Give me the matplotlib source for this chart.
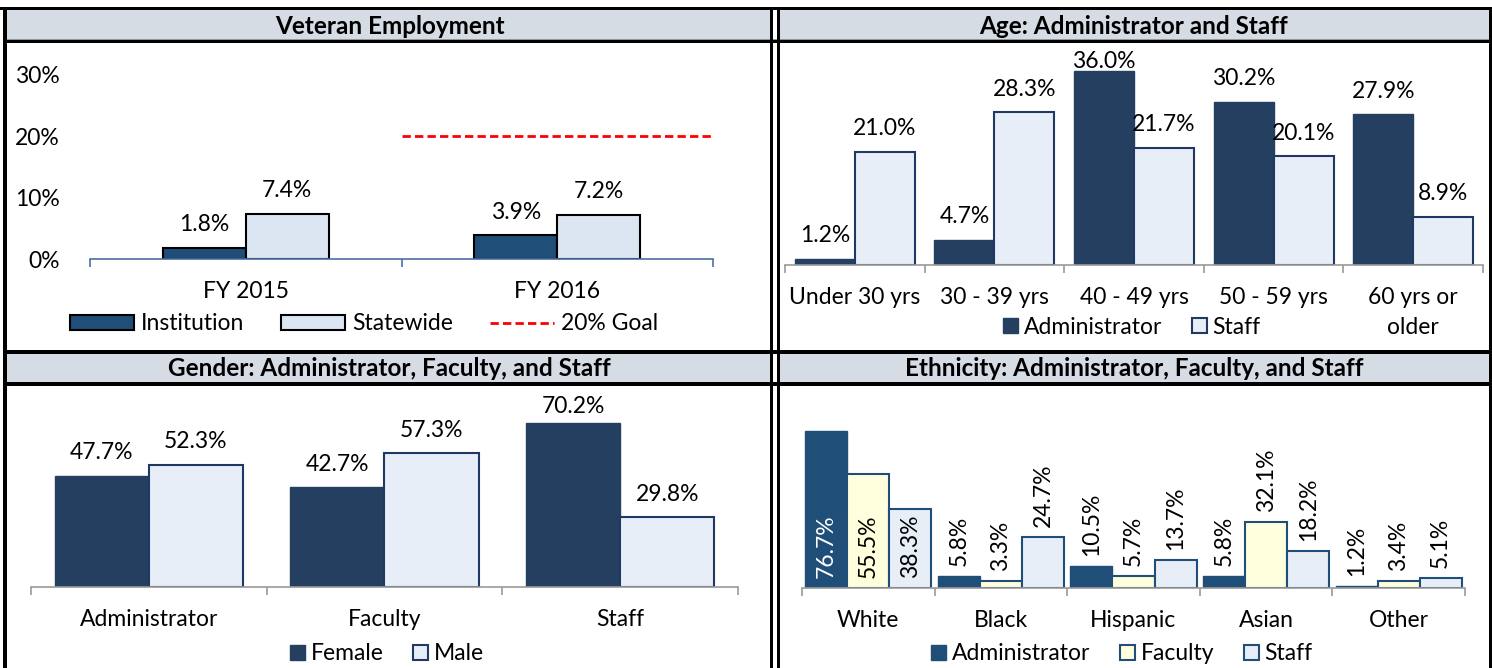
import matplotlib
matplotlib.use('Agg')
import matplotlib.pyplot as plt
from matplotlib.patches import Rectangle
from matplotlib.lines import Line2D
import numpy as np

# ---- data ----
vet_years = ['FY 2015', 'FY 2016']
vet_institution = [0.018, 0.039]
vet_statewide = [0.074, 0.072]
vet_goal = 0.20

age_groups = ['Under 30 yrs', '30 - 39 yrs', '40 - 49 yrs', '50 - 59 yrs', '60 yrs or\nolder']
age_admin = [0.012, 0.047, 0.360, 0.302, 0.279]
age_staff = [0.210, 0.283, 0.217, 0.201, 0.089]

gender_roles = ['Administrator', 'Faculty', 'Staff']
gender_female = [0.477, 0.427, 0.702]
gender_male = [0.523, 0.573, 0.298]

eth_groups = ['White', 'Black', 'Hispanic', 'Asian', 'Other']
eth_admin = [0.767, 0.058, 0.105, 0.058, 0.012]
eth_faculty = [0.555, 0.033, 0.057, 0.321, 0.034]
eth_staff = [0.383, 0.247, 0.137, 0.182, 0.051]

# ---- style ----
plt.rcParams['font.family'] = ['Lato', 'DejaVu Sans']
FS = 16.5
TFS = 17.5
W, H = 1492, 668
NAVY = '#243F60'
BLUE = '#1F4E79'
LIGHT = '#E8EEF7'
STATE = '#DCE6F2'
YELLOW = '#FFFFDD'
HEAD = '#D6DCE4'

fig = plt.figure(figsize=(W / 100, H / 100), dpi=100)


def box(x, y, w, h, color, z=1):
    fig.add_artist(Rectangle((x / W, 1 - (y + h) / H), w / W, h / H,
                             transform=fig.transFigure, facecolor=color,
                             edgecolor='none', zorder=z))


def px_axes(left, top, right, bottom):
    ax = fig.add_axes([left / W, 1 - bottom / H, (right - left) / W, (bottom - top) / H])
    ax.patch.set_alpha(0)
    return ax


def cat_axis(ax, labels, spine_color, pad):
    n = len(labels)
    ax.set_xlim(-0.5, n - 0.5)
    ax.set_xticks(np.arange(n + 1) - 0.5)
    ax.set_xticklabels([])
    ax.set_xticks(np.arange(n), minor=True)
    ax.set_xticklabels(labels, minor=True, fontsize=FS)
    ax.tick_params(axis='x', which='major', length=6, color=spine_color, width=1.2)
    ax.tick_params(axis='x', which='minor', length=0, pad=pad)
    for s in ['top', 'right', 'left']:
        ax.spines[s].set_visible(False)
    ax.spines['bottom'].set_color(spine_color)
    ax.spines['bottom'].set_linewidth(1.2)
    ax.set_yticks([])


def ppu(ax):
    # pixels per data unit on the y axis
    y0, y1 = ax.get_ylim()
    return ax.get_window_extent().height / (y1 - y0)


def top_labels(ax, xs, vals, off_px, cap_px, **kw):
    p = ppu(ax)
    ymax = ax.get_ylim()[1]
    for x, v in zip(xs, vals):
        y = min(v + off_px / p, ymax - cap_px / p)
        ax.text(x, y, f'{v * 100:.1f}%', ha='center', va='center', fontsize=FS, **kw)


# ---- frame and headers ----
for y0 in (10, 354):
    box(7, y0, 763, 29, HEAD)
    box(780, y0, 709, 29, HEAD)
box(7, 39, 1482, 1.5, '#8C96A0')
box(0, 7, W, 3, 'black', 3)
box(7, 40, 1482, 3, 'black', 3)
box(7, 350, 1482, 4, 'black', 3)
box(7, 382, 1482, 4, 'black', 3)
box(3, 7, 4, H, 'black', 3)
box(770, 7, 3, H, 'black', 3)
box(777, 7, 3, H, 'black', 3)
box(1489, 7, 3, H, 'black', 3)

titles = [('Veteran Employment', 390, 27), ('Age: Administrator and Staff', 1134, 27),
          ('Gender: Administrator, Faculty, and Staff', 389, 369),
          ('Ethnicity: Administrator, Faculty, and Staff', 1134, 369)]
for t, x, y in titles:
    fig.text(x / W, 1 - y / H, t, ha='center', va='center', fontsize=TFS, weight='bold')

# ---- Veteran Employment ----
ax1 = px_axes(90, 75, 713, 259)
cat_axis(ax1, vet_years, '#4A6FA5', 16)
ax1.set_ylim(0, 0.30)
ax1.set_yticks([0, 0.1, 0.2, 0.3])
ax1.set_yticklabels(['0%', '10%', '20%', '30%'], fontsize=FS)
ax1.tick_params(axis='y', length=0, pad=22)
x = np.arange(len(vet_years))
bw = 0.266
ax1.bar(x - bw / 2, vet_institution, bw, color=BLUE, edgecolor='black', linewidth=1.5)
ax1.bar(x + bw / 2, vet_statewide, bw, color=STATE, edgecolor='black', linewidth=1.5)
ax1.plot([0.5, 1.5], [vet_goal, vet_goal], color='red', lw=2, ls=(0, (3, 1.5)))
top_labels(ax1, x - bw / 2, vet_institution, 23, 10)
top_labels(ax1, x + bw / 2, vet_statewide, 23, 10)
h1 = [Rectangle((0, 0), 1, 1, fc=BLUE, ec='black', lw=1.5),
      Rectangle((0, 0), 1, 1, fc=STATE, ec='black', lw=1.5),
      Line2D([], [], color='red', lw=2, ls=(0, (3, 1.5)))]
ax1.legend(h1, ['Institution', 'Statewide', '20% Goal'], loc='center',
           bbox_to_anchor=(364 / W, 1 - 324 / H), bbox_transform=fig.transFigure,
           ncol=3, frameon=False, handlelength=2.8, handleheight=0.65,
           handletextpad=0.3, columnspacing=1.6, fontsize=FS, borderpad=0, borderaxespad=0)

# ---- Age ----
ax2 = px_axes(785, 49, 1483, 265)
cat_axis(ax2, age_groups, '#9A9A9A', 16)
for t in ax2.get_xticklabels(minor=True):
    t.set_linespacing(1.5)
ax2.set_ylim(0, 0.40)
x = np.arange(len(age_groups))
bw = 0.43
ax2.bar(x - bw / 2, age_admin, bw, color=NAVY, edgecolor=NAVY, linewidth=1)
ax2.bar(x + bw / 2, age_staff, bw, color=LIGHT, edgecolor='#1F3864', linewidth=1.5)
top_labels(ax2, x - bw / 2, age_admin, 23, 13)
top_labels(ax2, x + bw / 2, age_staff, 23, 13)
h2 = [Rectangle((0, 0), 1, 1, fc=NAVY, ec=NAVY),
      Rectangle((0, 0), 1, 1, fc=LIGHT, ec='#1F3864', lw=1.5)]
ax2.legend(h2, ['Administrator', 'Staff'], loc='center',
           bbox_to_anchor=(1132 / W, 1 - 327 / H), bbox_transform=fig.transFigure,
           ncol=2, frameon=False, handlelength=0.65, handleheight=0.65,
           handletextpad=0.25, columnspacing=1.3, fontsize=FS, borderpad=0, borderaxespad=0)

# ---- Gender ----
ax3 = px_axes(31, 400, 738, 587)
cat_axis(ax3, gender_roles, '#9A9A9A', 16)
ax3.set_ylim(0, 0.80)
x = np.arange(len(gender_roles))
bw = 0.40
ax3.bar(x - bw / 2, gender_female, bw, color=NAVY, edgecolor=NAVY, linewidth=1)
ax3.bar(x + bw / 2, gender_male, bw, color=LIGHT, edgecolor='#1F3864', linewidth=1.5)
top_labels(ax3, x - bw / 2, gender_female, 23, 7)
top_labels(ax3, x + bw / 2, gender_male, 23, 7)
ax3.legend(h2, ['Female', 'Male'], loc='center',
           bbox_to_anchor=(387 / W, 1 - 654 / H), bbox_transform=fig.transFigure,
           ncol=2, frameon=False, handlelength=0.65, handleheight=0.65,
           handletextpad=0.25, columnspacing=1.3, fontsize=FS, borderpad=0, borderaxespad=0)

# ---- Ethnicity ----
ax4 = px_axes(802, 424, 1465, 588)
cat_axis(ax4, eth_groups, '#9A9A9A', 16)
ax4.set_ylim(0, 0.80)
x = np.arange(len(eth_groups))
bw = 0.317
series = [(eth_admin, BLUE, BLUE, 1, 'white'),
          (eth_faculty, YELLOW, BLUE, 1.5, 'black'),
          (eth_staff, LIGHT, BLUE, 1.5, 'black')]
p4 = ppu(ax4)
for i, (vals, fc, ec, lw, inside) in enumerate(series):
    xs = x + (i - 1) * bw
    ax4.bar(xs, vals, bw, color=fc, edgecolor=ec, linewidth=lw)
    for j, (xx, v) in enumerate(zip(xs, vals)):
        if j == 0:
            ax4.text(xx, 10 / p4, f'{v * 100:.1f}%', rotation=90, ha='center',
                     va='bottom', fontsize=FS, color=inside)
        else:
            ax4.text(xx, v + 10 / p4, f'{v * 100:.1f}%', rotation=90, ha='center',
                     va='bottom', fontsize=FS)
h4 = [Rectangle((0, 0), 1, 1, fc=BLUE, ec=BLUE),
      Rectangle((0, 0), 1, 1, fc=YELLOW, ec=BLUE, lw=1.5),
      Rectangle((0, 0), 1, 1, fc=LIGHT, ec=BLUE, lw=1.5)]
ax4.legend(h4, ['Administrator', 'Faculty', 'Staff'], loc='center',
           bbox_to_anchor=(1122 / W, 1 - 654 / H), bbox_transform=fig.transFigure,
           ncol=3, frameon=False, handlelength=0.65, handleheight=0.65,
           handletextpad=0.25, columnspacing=1.3, fontsize=FS, borderpad=0, borderaxespad=0)

fig.savefig('out.png', dpi=100)
